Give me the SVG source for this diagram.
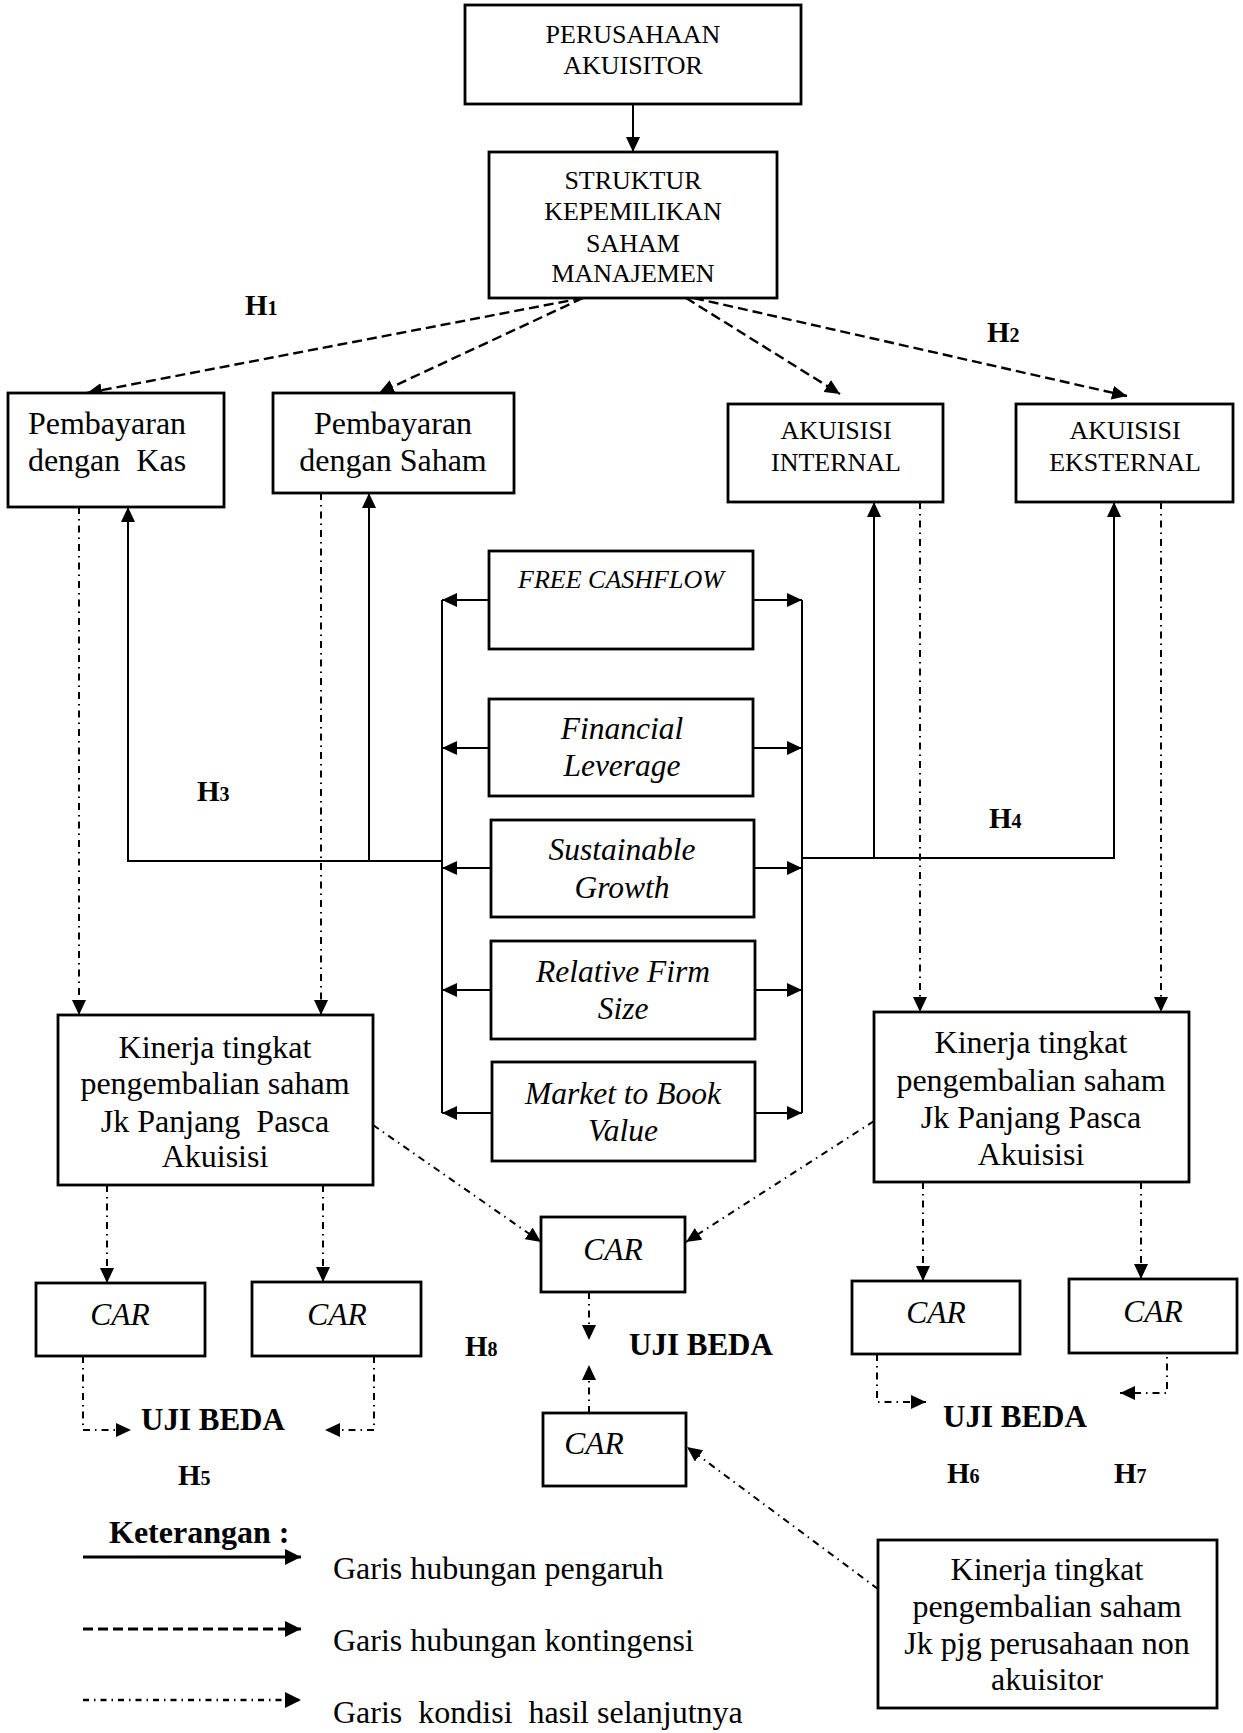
<svg xmlns="http://www.w3.org/2000/svg" width="1243" height="1733" viewBox="0 0 1243 1733">
<style>
.box{fill:#fff;stroke:#000;stroke-width:2.8}
text{font-family:"Liberation Serif","Times New Roman",serif;fill:#000;text-anchor:middle}
.cap{font-size:26px}
.r{font-size:32px}
.i{font-size:31.5px;font-style:italic}
.b{font-size:31px;font-weight:bold}
.h{font-size:29px;font-weight:bold;text-anchor:start}
.lg{font-size:32px;text-anchor:start}
.s{fill:none;stroke:#000;stroke-width:2}
.d{fill:none;stroke:#000;stroke-width:2.4;stroke-dasharray:10 5}
.dd{fill:none;stroke:#000;stroke-width:2;stroke-dasharray:7 5 1.5 5}
</style>
<defs>
<marker id="a" markerWidth="15" markerHeight="14" refX="15" refY="7" orient="auto" markerUnits="userSpaceOnUse">
<path d="M0,0 L15,7 L0,14 z" fill="#000"/>
</marker>
<marker id="al" markerWidth="16" markerHeight="16" refX="16" refY="8" orient="auto" markerUnits="userSpaceOnUse">
<path d="M0,0 L16,8 L0,16 z" fill="#000"/>
</marker>
</defs>

<g id="connectors">
<line class="s" x1="633" y1="104" x2="633" y2="152" marker-end="url(#a)"/>
<line class="d" x1="583" y1="298" x2="87" y2="393" marker-end="url(#a)"/>
<line class="d" x1="583" y1="298" x2="379" y2="393" marker-end="url(#a)"/>
<line class="d" x1="686" y1="298" x2="840" y2="394" marker-end="url(#a)"/>
<line class="d" x1="694" y1="298" x2="1127" y2="396" marker-end="url(#a)"/>
<polyline class="s" points="442,861 128,861 128,507" marker-end="url(#a)"/>
<line class="s" x1="369" y1="861" x2="369" y2="493" marker-end="url(#a)"/>
<polyline class="s" points="802,858 1114,858 1114,502" marker-end="url(#a)"/>
<line class="s" x1="874" y1="858" x2="874" y2="502" marker-end="url(#a)"/>
<line class="s" x1="442" y1="600" x2="442" y2="1113"/>
<line class="s" x1="802" y1="600" x2="802" y2="1113"/>
<line class="s" x1="489" y1="600" x2="442" y2="600" marker-end="url(#a)"/>
<line class="s" x1="489" y1="748" x2="442" y2="748" marker-end="url(#a)"/>
<line class="s" x1="491" y1="868" x2="442" y2="868" marker-end="url(#a)"/>
<line class="s" x1="491" y1="990" x2="442" y2="990" marker-end="url(#a)"/>
<line class="s" x1="492" y1="1113" x2="442" y2="1113" marker-end="url(#a)"/>
<line class="s" x1="753" y1="600" x2="802" y2="600" marker-end="url(#a)"/>
<line class="s" x1="753" y1="748" x2="802" y2="748" marker-end="url(#a)"/>
<line class="s" x1="754" y1="868" x2="802" y2="868" marker-end="url(#a)"/>
<line class="s" x1="755" y1="990" x2="802" y2="990" marker-end="url(#a)"/>
<line class="s" x1="755" y1="1113" x2="802" y2="1113" marker-end="url(#a)"/>
<line class="dd" x1="79" y1="507" x2="79" y2="1015" marker-end="url(#a)"/>
<line class="dd" x1="321" y1="493" x2="321" y2="1015" marker-end="url(#a)"/>
<line class="dd" x1="920" y1="502" x2="920" y2="1012" marker-end="url(#a)"/>
<line class="dd" x1="1161" y1="502" x2="1161" y2="1012" marker-end="url(#a)"/>
<line class="dd" x1="107" y1="1185" x2="107" y2="1283" marker-end="url(#a)"/>
<line class="dd" x1="323" y1="1185" x2="323" y2="1282" marker-end="url(#a)"/>
<line class="dd" x1="923" y1="1182" x2="923" y2="1281" marker-end="url(#a)"/>
<line class="dd" x1="1141" y1="1182" x2="1141" y2="1279" marker-end="url(#a)"/>
<line class="dd" x1="373" y1="1125" x2="541" y2="1242" marker-end="url(#a)"/>
<line class="dd" x1="874" y1="1121" x2="686" y2="1242" marker-end="url(#a)"/>
<line class="dd" x1="589" y1="1292" x2="589" y2="1340" marker-end="url(#a)"/>
<line class="dd" x1="589" y1="1413" x2="589" y2="1365" marker-end="url(#a)"/>
<polyline class="dd" points="83,1356 83,1430 131,1430" marker-end="url(#a)"/>
<polyline class="dd" points="374,1356 374,1430 325,1430" marker-end="url(#a)"/>
<polyline class="dd" points="877,1354 877,1402 926,1402" marker-end="url(#a)"/>
<polyline class="dd" points="1167,1345 1167,1393 1120,1393" marker-end="url(#a)"/>
<line class="dd" x1="878" y1="1589" x2="687" y2="1447" marker-end="url(#a)"/>
</g>

<g id="n-top"><rect class="box" x="465" y="5" width="336" height="99"/>
<text class="cap" x="633" y="43">PERUSAHAAN</text><text class="cap" x="633" y="74">AKUISITOR</text></g>
<g id="n-struktur"><rect class="box" x="489" y="152" width="288" height="146"/>
<text class="cap" x="633" y="189">STRUKTUR</text><text class="cap" x="633" y="220">KEPEMILIKAN</text>
<text class="cap" x="633" y="252">SAHAM</text><text class="cap" x="633" y="282">MANAJEMEN</text></g>
<g id="n-kas"><rect class="box" x="8" y="393" width="216" height="114"/>
<text class="r" x="107" y="434">Pembayaran</text><text class="r" x="107" y="471" xml:space="preserve">dengan  Kas</text></g>
<g id="n-saham"><rect class="box" x="273" y="393" width="241" height="100"/>
<text class="r" x="393" y="434">Pembayaran</text><text class="r" x="393" y="471">dengan Saham</text></g>
<g id="n-internal"><rect class="box" x="728" y="404" width="215" height="98"/>
<text class="cap" x="836" y="439">AKUISISI</text><text class="cap" x="836" y="471">INTERNAL</text></g>
<g id="n-eksternal"><rect class="box" x="1016" y="404" width="217" height="98"/>
<text class="cap" x="1125" y="439">AKUISISI</text><text class="cap" x="1125" y="471">EKSTERNAL</text></g>
<g id="n-fcf"><rect class="box" x="489" y="551" width="264" height="98"/>
<text class="i" x="621" y="588" style="font-size:26px">FREE CASHFLOW</text></g>
<g id="n-fin"><rect class="box" x="489" y="699" width="264" height="97"/>
<text class="i" x="622" y="739">Financial</text><text class="i" x="622" y="776">Leverage</text></g>
<g id="n-sus"><rect class="box" x="491" y="820" width="263" height="97"/>
<text class="i" x="622" y="860">Sustainable</text><text class="i" x="622" y="898">Growth</text></g>
<g id="n-rel"><rect class="box" x="491" y="941" width="264" height="98"/>
<text class="i" x="623" y="982">Relative Firm</text><text class="i" x="623" y="1019">Size</text></g>
<g id="n-mtb"><rect class="box" x="492" y="1062" width="263" height="99"/>
<text class="i" x="623" y="1104">Market to Book</text><text class="i" x="623" y="1141">Value</text></g>
<g id="n-kinL"><rect class="box" x="58" y="1015" width="315" height="170"/>
<text class="r" x="215" y="1058">Kinerja tingkat</text><text class="r" x="215" y="1094">pengembalian saham</text>
<text class="r" x="215" y="1132" xml:space="preserve">Jk Panjang  Pasca</text><text class="r" x="215" y="1167">Akuisisi</text></g>
<g id="n-kinR"><rect class="box" x="874" y="1012" width="315" height="170"/>
<text class="r" x="1031" y="1053">Kinerja tingkat</text><text class="r" x="1031" y="1091">pengembalian saham</text>
<text class="r" x="1031" y="1128">Jk Panjang Pasca</text><text class="r" x="1031" y="1165">Akuisisi</text></g>
<g id="n-carC"><rect class="box" x="541" y="1217" width="144" height="75"/><text class="i" x="613" y="1260">CAR</text></g>
<g id="n-car1"><rect class="box" x="36" y="1283" width="169" height="73"/><text class="i" x="120" y="1325">CAR</text></g>
<g id="n-car2"><rect class="box" x="252" y="1282" width="169" height="74"/><text class="i" x="337" y="1325">CAR</text></g>
<g id="n-car3"><rect class="box" x="852" y="1281" width="168" height="73"/><text class="i" x="936" y="1323">CAR</text></g>
<g id="n-car4"><rect class="box" x="1069" y="1279" width="168" height="74"/><text class="i" x="1153" y="1322">CAR</text></g>
<g id="n-carB"><rect class="box" x="543" y="1413" width="143" height="73"/><text class="i" x="594" y="1454">CAR</text></g>
<g id="n-kinB"><rect class="box" x="878" y="1540" width="339" height="168"/>
<text class="r" x="1047" y="1580">Kinerja tingkat</text><text class="r" x="1047" y="1617">pengembalian saham</text>
<text class="r" x="1047" y="1654">Jk pjg perusahaan non</text><text class="r" x="1047" y="1690">akuisitor</text></g>

<g id="labels">
<text class="h" x="245" y="315">H<tspan style="font-size:20px">1</tspan></text>
<text class="h" x="987" y="342">H<tspan style="font-size:20px">2</tspan></text>
<text class="h" x="197" y="801">H<tspan style="font-size:20px">3</tspan></text>
<text class="h" x="989" y="828">H<tspan style="font-size:20px">4</tspan></text>
<text class="h" x="178" y="1485">H<tspan style="font-size:20px">5</tspan></text>
<text class="h" x="947" y="1483">H<tspan style="font-size:20px">6</tspan></text>
<text class="h" x="1114" y="1483">H<tspan style="font-size:20px">7</tspan></text>
<text class="h" x="465" y="1356">H<tspan style="font-size:20px">8</tspan></text>
<text class="b" x="629" y="1355" style="text-anchor:start">UJI BEDA</text>
<text class="b" x="141" y="1430" style="text-anchor:start">UJI BEDA</text>
<text class="b" x="943" y="1427" style="text-anchor:start">UJI BEDA</text>
</g>

<g id="legend">
<text class="b" x="109" y="1543" style="text-anchor:start;font-size:32px">Keterangan :</text>
<line x1="83" y1="1557" x2="301" y2="1557" stroke="#000" stroke-width="3" marker-end="url(#al)"/>
<line x1="83" y1="1629" x2="301" y2="1629" stroke="#000" stroke-width="3" stroke-dasharray="10 5" marker-end="url(#al)"/>
<line x1="83" y1="1700" x2="301" y2="1700" stroke="#000" stroke-width="2.4" stroke-dasharray="6 5 1.5 5" marker-end="url(#al)"/>
<text class="lg" x="333" y="1579">Garis hubungan pengaruh</text>
<text class="lg" x="333" y="1651">Garis hubungan kontingensi</text>
<text class="lg" x="333" y="1723" xml:space="preserve">Garis  kondisi  hasil selanjutnya</text>
</g>
</svg>
